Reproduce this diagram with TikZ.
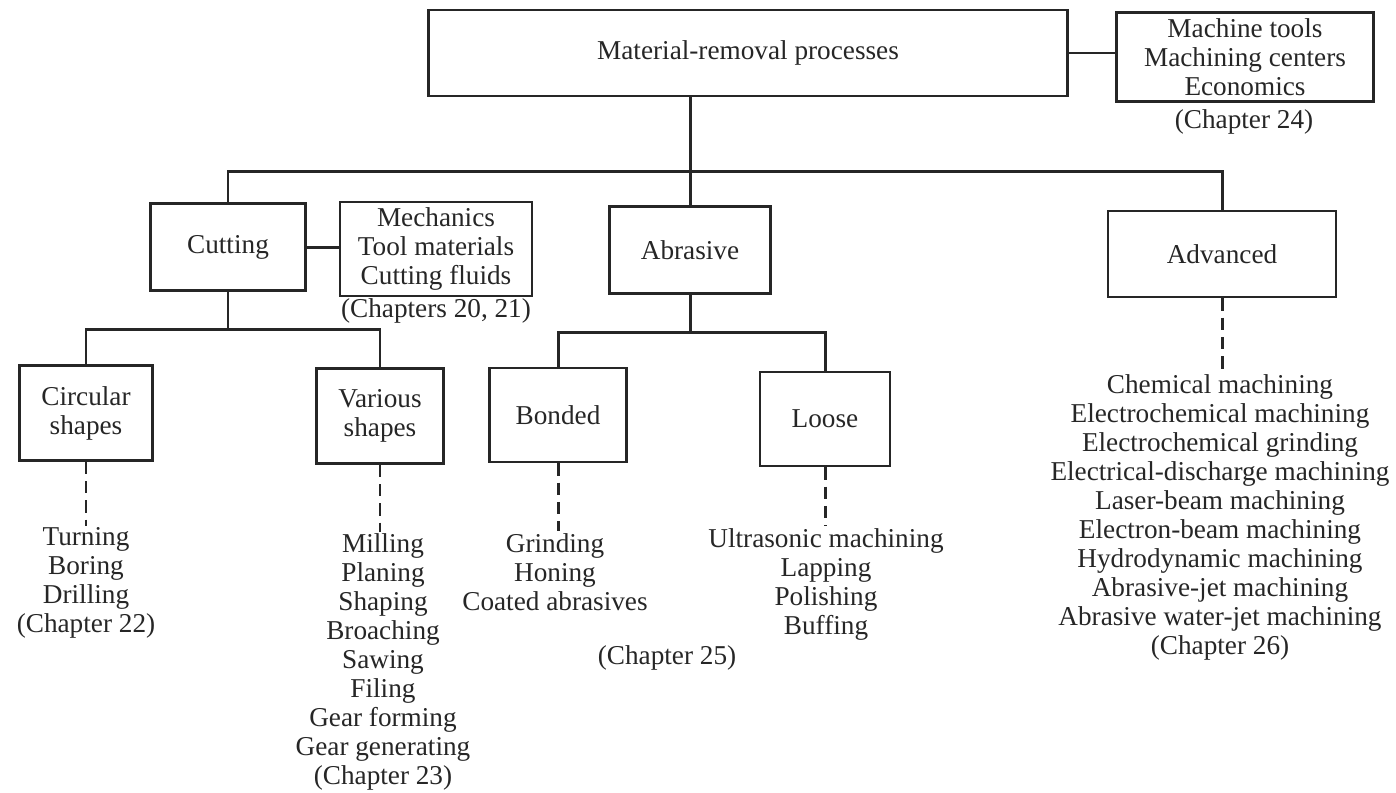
\documentclass[tikz,border=0pt]{standalone}
\usepackage{fontspec}
\setmainfont{Liberation Serif}
\tikzset{
  proc/.style 2 args={draw, line width=1.4pt, minimum width=#1*0.02cm,
    minimum height=#2*0.02cm, align=center},
  items/.style={align=center, inner sep=1pt},
  link/.style={line width=1.7pt},
  dashlink/.style={line width=1.7pt, dash pattern=on 7pt off 4pt}
}
\begin{document}
\begin{tikzpicture}[x=0.02cm, y=-0.02cm, color=black!85,
    every node/.style={font=\fontsize{15.5}{16.5}\selectfont}]
  \useasboundingbox (0,0) rectangle (1396,792);
  % top level
  \node[proc={639}{86}] (mrp) at (748,53) {Material-removal processes};
  \node[proc={257}{88}] (tools) at (1245,57) {Machine tools\\Machining centers\\Economics};
  \node (ch24) at (1244,122) {(Chapter 24)};
  % second level
  \node[proc={155}{87}] (cut) at (228,247) {Cutting};
  \node[proc={192}{92}] (mech) at (436,249) {Mechanics\\Tool materials\\Cutting fluids};
  \node (ch20) at (436,311) {(Chapters 20, 21)};
  \node[proc={161}{87}] (abr) at (690,250) {Abrasive};
  \node[proc={228}{86}] (adv) at (1222,254) {Advanced};
  % third level
  \node[proc={133}{95}] (circ) at (86,413) {Circular\\shapes};
  \node[proc={127}{95}] (var) at (380,416) {Various\\shapes};
  \node[proc={137}{94}] (bond) at (558,415) {Bonded};
  \node[proc={130}{94}] (loose) at (825,419) {Loose};
  % process lists
  \node[items] (circlist) at (86,583) {Turning\\Boring\\Drilling\\(Chapter 22)};
  \node[items] (varlist) at (383,662) {Milling\\Planing\\Shaping\\Broaching\\Sawing\\Filing\\Gear forming\\Gear generating\\(Chapter 23)};
  \node[items] (bondlist) at (555,572) {Grinding\\Honing\\Coated abrasives};
  \node (ch25) at (667,658) {(Chapter 25)};
  \node[items] (looselist) at (826,584) {Ultrasonic machining\\Lapping\\Polishing\\Buffing};
  \node[items] (advlist) at (1220,517) {Chemical machining\\Electrochemical machining\\Electrochemical grinding\\Electrical-discharge machining\\Laser-beam machining\\Electron-beam machining\\Hydrodynamic machining\\Abrasive-jet machining\\Abrasive water-jet machining\\(Chapter 26)};
  % tree lines
  \coordinate (bar) at (690,171);
  \coordinate (cbar) at (228,329);
  \coordinate (abar) at (690,332);
  \draw[link] (mrp.east) -- (mrp.east -| tools.west);
  \draw[link] (mrp.south -| abr.north) -- (abr.north);
  \draw[link] (cut.north) |- (bar) -| (adv.north);
  \draw[link] (cut.east) -- (cut.east -| mech.west);
  \draw[link] (cut.south) -- (cbar);
  \draw[link] (circ.north) |- (cbar) -| (var.north);
  \draw[link] (abr.south) -- (abar);
  \draw[link] (bond.north) |- (abar) -| (loose.north);
  % dashed lines to the lists
  \draw[dashlink] (circ.south) -- (circ.south |- circlist.north);
  \draw[dashlink] (var.south) -- (var.south |- varlist.north);
  \draw[dashlink] (bond.south) -- (bond.south |- bondlist.north);
  \draw[dashlink] (loose.south) -- (loose.south |- looselist.north);
  \draw[dashlink] (adv.south) -- (adv.south |- advlist.north);
\end{tikzpicture}
\end{document}
